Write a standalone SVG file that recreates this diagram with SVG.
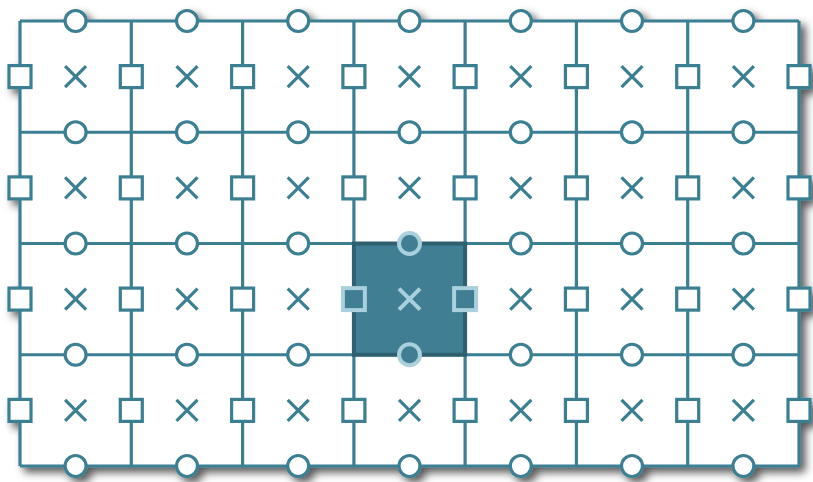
<svg xmlns="http://www.w3.org/2000/svg" xmlns:xlink="http://www.w3.org/1999/xlink" width="813" height="482" viewBox="0 0 813 482">
<defs>
<filter id="sh" x="-5%" y="-8%" width="115%" height="120%">
<feDropShadow dx="5" dy="5" stdDeviation="4.5" flood-color="#000" flood-opacity="0.65"/>
</filter>
<circle id="c" r="10.5"/>
<rect id="s" x="-11" y="-11" width="22" height="22"/>
<path id="x" d="M-10.5,-10.5L10.5,10.5M10.5,-10.5L-10.5,10.5"/>
</defs>
<style>
.ln{stroke:#3b7f93;stroke-width:3.2;fill:none}
.c,.s{fill:#fff;stroke:#3b7f93;stroke-width:3.2}
.x{stroke:#3b7f93;stroke-width:3.2;fill:none}
.hc,.hs{fill:#3f7f93;stroke:#a9d0dc;stroke-width:4}
.hx{stroke:#a9d0dc;stroke-width:4;fill:none}
</style>
<g filter="url(#sh)">
<rect x="20" y="21" width="779" height="445" fill="#fff"/>
<g id="connectors" class="ln">
<path d="M20,21H799M20,132.25H799M20,243.5H799M20,354.75H799M20,466H799"/>
<path d="M20,21V466M131.3,21V466M242.6,21V466M353.9,21V466M465.1,21V466M576.4,21V466M687.7,21V466M799,21V466"/>
</g>
<g id="highlight">
<rect x="353.9" y="243.5" width="111.2" height="111.25" fill="#3f7f93" stroke="#2e6070" stroke-width="4"/>
</g>
<g id="circles">
<g class="c">
<use href="#c" x="75.6" y="21"/><use href="#c" x="187" y="21"/><use href="#c" x="298.2" y="21"/><use href="#c" x="409.5" y="21"/><use href="#c" x="520.8" y="21"/><use href="#c" x="632" y="21"/><use href="#c" x="743.4" y="21"/>
<use href="#c" x="75.6" y="132.25"/><use href="#c" x="187" y="132.25"/><use href="#c" x="298.2" y="132.25"/><use href="#c" x="409.5" y="132.25"/><use href="#c" x="520.8" y="132.25"/><use href="#c" x="632" y="132.25"/><use href="#c" x="743.4" y="132.25"/>
<use href="#c" x="75.6" y="243.5"/><use href="#c" x="187" y="243.5"/><use href="#c" x="298.2" y="243.5"/><use href="#c" x="520.8" y="243.5"/><use href="#c" x="632" y="243.5"/><use href="#c" x="743.4" y="243.5"/>
<use href="#c" x="75.6" y="354.75"/><use href="#c" x="187" y="354.75"/><use href="#c" x="298.2" y="354.75"/><use href="#c" x="520.8" y="354.75"/><use href="#c" x="632" y="354.75"/><use href="#c" x="743.4" y="354.75"/>
<use href="#c" x="75.6" y="466"/><use href="#c" x="187" y="466"/><use href="#c" x="298.2" y="466"/><use href="#c" x="409.5" y="466"/><use href="#c" x="520.8" y="466"/><use href="#c" x="632" y="466"/><use href="#c" x="743.4" y="466"/>
</g>
<g class="hc">
<use href="#c" x="409.5" y="243.5"/><use href="#c" x="409.5" y="354.75"/>
</g>
</g>
<g id="squares">
<g class="s">
<use href="#s" x="20" y="76.6"/><use href="#s" x="131.3" y="76.6"/><use href="#s" x="242.6" y="76.6"/><use href="#s" x="353.9" y="76.6"/><use href="#s" x="465.1" y="76.6"/><use href="#s" x="576.4" y="76.6"/><use href="#s" x="687.7" y="76.6"/><use href="#s" x="799" y="76.6"/>
<use href="#s" x="20" y="187.9"/><use href="#s" x="131.3" y="187.9"/><use href="#s" x="242.6" y="187.9"/><use href="#s" x="353.9" y="187.9"/><use href="#s" x="465.1" y="187.9"/><use href="#s" x="576.4" y="187.9"/><use href="#s" x="687.7" y="187.9"/><use href="#s" x="799" y="187.9"/>
<use href="#s" x="20" y="299.1"/><use href="#s" x="131.3" y="299.1"/><use href="#s" x="242.6" y="299.1"/><use href="#s" x="576.4" y="299.1"/><use href="#s" x="687.7" y="299.1"/><use href="#s" x="799" y="299.1"/>
<use href="#s" x="20" y="410.4"/><use href="#s" x="131.3" y="410.4"/><use href="#s" x="242.6" y="410.4"/><use href="#s" x="353.9" y="410.4"/><use href="#s" x="465.1" y="410.4"/><use href="#s" x="576.4" y="410.4"/><use href="#s" x="687.7" y="410.4"/><use href="#s" x="799" y="410.4"/>
</g>
<g class="hs">
<use href="#s" x="353.9" y="299.1"/><use href="#s" x="465.1" y="299.1"/>
</g>
</g>
<g id="crosses">
<g class="x">
<use href="#x" x="75.6" y="76.6"/><use href="#x" x="187" y="76.6"/><use href="#x" x="298.2" y="76.6"/><use href="#x" x="409.5" y="76.6"/><use href="#x" x="520.8" y="76.6"/><use href="#x" x="632" y="76.6"/><use href="#x" x="743.4" y="76.6"/>
<use href="#x" x="75.6" y="187.9"/><use href="#x" x="187" y="187.9"/><use href="#x" x="298.2" y="187.9"/><use href="#x" x="409.5" y="187.9"/><use href="#x" x="520.8" y="187.9"/><use href="#x" x="632" y="187.9"/><use href="#x" x="743.4" y="187.9"/>
<use href="#x" x="75.6" y="299.1"/><use href="#x" x="187" y="299.1"/><use href="#x" x="298.2" y="299.1"/><use href="#x" x="520.8" y="299.1"/><use href="#x" x="632" y="299.1"/><use href="#x" x="743.4" y="299.1"/>
<use href="#x" x="75.6" y="410.4"/><use href="#x" x="187" y="410.4"/><use href="#x" x="298.2" y="410.4"/><use href="#x" x="409.5" y="410.4"/><use href="#x" x="520.8" y="410.4"/><use href="#x" x="632" y="410.4"/><use href="#x" x="743.4" y="410.4"/>
</g>
<g class="hx">
<use href="#x" x="409.5" y="299.1"/>
</g>
</g>
</g>
</svg>
